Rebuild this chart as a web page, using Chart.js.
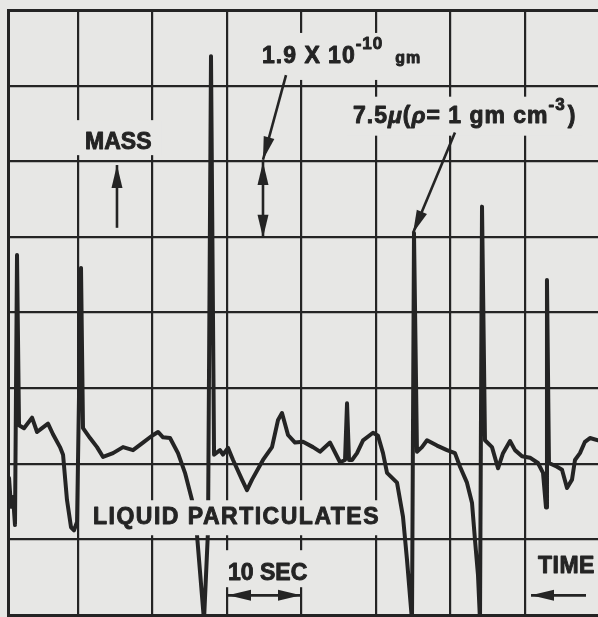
<!DOCTYPE html>
<html>
<head>
<meta charset="utf-8">
<script src="https://cdn.jsdelivr.net/npm/chart.js@4.4.1/dist/chart.umd.min.js"></script>
<style>
  html, body { margin: 0; padding: 0; background: #e7e7e5; }
  #wrap { width: 598px; height: 617px; }
</style>
</head>
<body>
<div id="wrap"><canvas id="trace"></canvas></div>
<script>
// time in seconds (0 = first full grid line), mass in chart divisions (1 div = 1.9 x 10^-10 gm)
const times = [
  -9.26, -8.99, -8.72, -8.46, -8.19, -7.92, -7.25, -6.17, -5.50, -4.83,
  -4.03, -3.36, -2.42, -2.01, -1.48, -0.94, -0.54, -0.13, 0.40, 0.67,
  1.61, 2.55, 3.36, 4.70, 6.04, 7.38, 8.72, 9.93, 10.74, 11.41,
  12.35, 13.42, 14.36, 15.30, 15.97, 16.91, 17.45, 17.85, 18.26, 19.06,
  19.46, 20.13, 20.81, 22.01, 22.68, 23.36, 24.83, 26.04, 26.85, 27.38,
  28.19, 29.13, 30.20, 31.54, 32.48, 33.83, 35.17, 35.84, 36.11, 36.38,
  36.78, 37.45, 38.26, 39.60, 40.27, 40.94, 41.48, 42.82, 43.62, 44.16,
  44.83, 45.10, 45.50, 46.17, 46.85, 48.19, 49.53, 50.60, 51.28, 52.21,
  52.89, 53.29, 53.69, 53.96, 54.23, 54.63, 55.57, 56.38, 57.05, 57.99,
  58.66, 59.60, 60.67, 61.74, 62.42, 62.82, 62.95, 63.22, 64.30, 64.97,
  65.64, 66.31, 66.71, 67.38, 68.05, 68.72, 69.80
];
const mass = [
  1.81, 1.43, 1.56, 1.19, 4.76, 2.51, 2.47, 2.61, 2.42, 2.47,
  2.53, 2.39, 2.22, 2.12, 1.52, 1.16, 1.12, 1.23, 4.59, 2.47,
  2.34, 2.22, 2.09, 2.14, 2.22, 2.18, 2.28, 2.37, 2.42, 2.35,
  2.34, 2.14, 1.88, 1.52, 1.06, -0.07, 1.12, 7.39, 2.12, 2.18,
  2.12, 2.21, 2.05, 1.79, 1.65, 1.79, 2.05, 2.22, 2.58, 2.67,
  2.38, 2.28, 2.29, 2.22, 2.16, 2.28, 2.02, 2.05, 2.80, 2.05,
  2.05, 2.14, 2.31, 2.41, 2.37, 2.14, 1.88, 1.75, 1.30, 0.73,
  -0.07, 5.05, 2.16, 2.22, 2.31, 2.24, 2.18, 2.14, 1.96, 1.75,
  1.48, 0.99, 0.53, -0.07, 5.40, 2.31, 2.22, 1.94, 2.14, 2.30,
  2.18, 2.10, 2.08, 2.01, 1.88, 1.42, 4.43, 2.01, 1.96, 1.92,
  1.68, 1.79, 2.05, 2.14, 2.29, 2.34, 2.31
];
const gridTimes = [0, 10, 20, 30, 40, 50, 60];
const gridMass = [0, 1, 2, 3, 4, 5, 6, 7, 8];

const PAPER = "#e7e7e5";
const INK = "#242424";
const FONT = '"Liberation Sans", Arial, sans-serif';

// text notes: left edge / baseline in data units, pad = [left, above baseline, right, below baseline] in px
const notes = [
  { x: 0.94, y: 6.16, pad: [11, 29, 10, 6], spacing: 0, runs: [{ t: "MASS" }] },
  { x: 24.70, y: 7.30, pad: [12, 30, 20, 17], spacing: 1,
    runs: [{ t: "1.9 X 10" }, { t: "-10", size: 17, dy: -14 }, { t: "gm", size: 16, gap: 12 }] },
  { x: 36.91, y: 6.51, pad: [6, 26, 6, 13], spacing: 1,
    runs: [{ t: "7.5" }, { t: "\u03bc", italic: true }, { t: "(" }, { t: "\u03c1", italic: true },
           { t: "= 1 gm cm" }, { t: "-3", size: 17, dy: -13 }, { t: ")", gap: 2 }] },
  { x: 2.01, y: 1.20, pad: [5, 24, 7, 11], spacing: 1.5, runs: [{ t: "LIQUID PARTICULATES" }] },
  { x: 20.13, y: 0.46, pad: [4, 30, 5, 7], spacing: 0, runs: [{ t: "10 SEC" }] },
  { x: 61.74, y: 0.56, pad: [4, 20, 3, 6], spacing: 0.5, runs: [{ t: "TIME" }] }
];

// arrows in data units: from -> to, heads at "end" or "both"
const arrows = [
  { from: [5.23, 5.12], to: [5.23, 5.95], heads: "end" },
  { from: [27.92, 7.14], to: [24.83, 6.02], heads: "end" },
  { from: [24.83, 4.99], to: [24.83, 5.99], heads: "both" },
  { from: [50.60, 6.38], to: [44.97, 5.05], heads: "end" },
  { from: [20.13, 0.26], to: [29.93, 0.26], heads: "both" },
  { from: [68.19, 0.26], to: [60.81, 0.26], heads: "end" }
];

function arrowHead(ctx, x0, y0, x1, y1) {
  const a = Math.atan2(y1 - y0, x1 - x0);
  const L = 23, W = 5.5;
  const c = Math.cos(a), s = Math.sin(a);
  ctx.beginPath();
  ctx.moveTo(x1, y1);
  ctx.lineTo(x1 - L * c + W * s, y1 - L * s - W * c);
  ctx.lineTo(x1 - L * c - W * s, y1 - L * s + W * c);
  ctx.closePath();
  ctx.fill();
}

const paper = {
  id: "paper",
  beforeDraw(chart) {
    const ctx = chart.ctx;
    ctx.save();
    ctx.fillStyle = PAPER;
    ctx.fillRect(0, 0, chart.width, chart.height);
    ctx.restore();
  },
  afterDatasetsDraw(chart) {
    const ctx = chart.ctx, xs = chart.scales.x, ys = chart.scales.y;
    ctx.save();
    notes.forEach(n => {
      let px = xs.getPixelForValue(n.x);
      const base = ys.getPixelForValue(n.y);
      ctx.letterSpacing = n.spacing + "px";
      const parts = n.runs.map(r => {
        const font = (r.italic ? "italic " : "") + "bold " + (r.size || 23) + "px " + FONT;
        ctx.font = font;
        return { ...r, font, w: ctx.measureText(r.t).width };
      });
      const total = parts.reduce((s, p) => s + (p.gap || 0) + p.w, 0);
      const [l, t, r, b] = n.pad;
      ctx.fillStyle = PAPER;
      ctx.fillRect(px - l, base - t, total + l + r, t + b);
      ctx.fillStyle = INK;
      ctx.strokeStyle = INK;
      ctx.lineWidth = 0.9;
      ctx.lineJoin = "round";
      ctx.textBaseline = "alphabetic";
      parts.forEach(p => {
        px += p.gap || 0;
        ctx.font = p.font;
        ctx.fillText(p.t, px, base + (p.dy || 0));
        ctx.strokeText(p.t, px, base + (p.dy || 0));
        px += p.w;
      });
    });
    ctx.letterSpacing = "0px";
    ctx.strokeStyle = INK;
    ctx.fillStyle = INK;
    ctx.lineWidth = 2.6;
    arrows.forEach(a => {
      const x0 = xs.getPixelForValue(a.from[0]), y0 = ys.getPixelForValue(a.from[1]);
      const x1 = xs.getPixelForValue(a.to[0]), y1 = ys.getPixelForValue(a.to[1]);
      ctx.beginPath();
      ctx.moveTo(x0, y0);
      ctx.lineTo(x1, y1);
      ctx.stroke();
      arrowHead(ctx, x0, y0, x1, y1);
      if (a.heads === "both") arrowHead(ctx, x1, y1, x0, y0);
    });
    ctx.restore();
  }
};

new Chart(document.getElementById("trace"), {
  type: "line",
  data: {
    datasets: [{
      data: times.map((t, i) => ({ x: t, y: mass[i] })),
      borderColor: INK,
      borderWidth: 4,
      pointRadius: 0,
      tension: 0,
      borderJoinStyle: "round",
      borderCapStyle: "round"
    }]
  },
  options: {
    animation: false,
    responsive: true,
    maintainAspectRatio: false,
    devicePixelRatio: 1,
    layout: { padding: { left: 8, top: 10, right: 0, bottom: 2 } },
    plugins: { legend: { display: false }, tooltip: { enabled: false } },
    scales: {
      x: {
        type: "linear",
        min: -9.4,
        max: 69.8,
        afterBuildTicks: s => { s.ticks = gridTimes.map(v => ({ value: v })); },
        ticks: { display: false },
        grid: { color: INK, lineWidth: 2.2, drawTicks: false },
        border: { display: true, color: INK, width: 3 }
      },
      y: {
        min: 0,
        max: 8,
        afterBuildTicks: s => { s.ticks = gridMass.map(v => ({ value: v })); },
        ticks: { display: false },
        grid: { color: INK, lineWidth: c => (c.tick && c.tick.value === 8 ? 3 : 2.2), drawTicks: false },
        border: { display: true, color: INK, width: 3 }
      }
    }
  },
  plugins: [paper]
});
</script>
</body>
</html>
